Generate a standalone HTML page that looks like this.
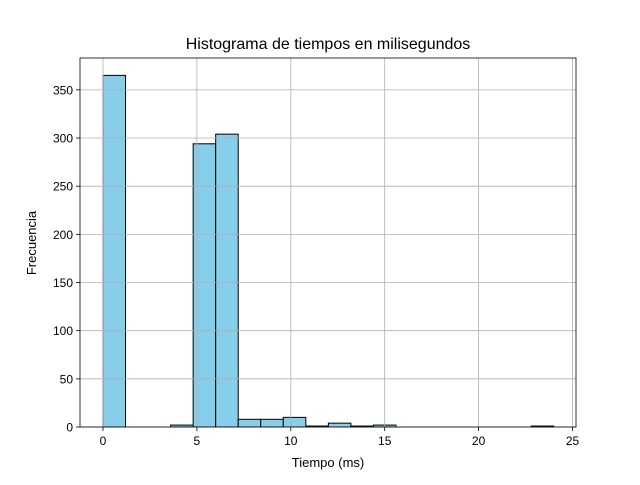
<!DOCTYPE html>
<html><head><meta charset="utf-8"><style>
body{margin:0;background:#fff;}
svg text{font-family:"Liberation Sans","DejaVu Sans",sans-serif;fill:#000;}
</style></head><body>
<svg id="chart" width="640" height="480">
<rect width="640" height="480" fill="#fff"/>
<g id="bars"></g><g id="grid"></g><g id="axes"></g>
<text x="328" y="49" font-size="16" text-anchor="middle">Histograma de tiempos en milisegundos</text>
<text x="328" y="467" font-size="13" text-anchor="middle">Tiempo (ms)</text>
<text x="36" y="243" font-size="13" text-anchor="middle" transform="rotate(-90 36 243)">Frecuencia</text>
</svg>
<script>
const binStart = 0;
const binWidth = 1.2;
const counts = [365,0,0,2,294,304,8,8,10,1,4,1,2,0,0,0,0,0,0,1];
const xTicks = [0,5,10,15,20,25];
const yTicks = [0,50,100,150,200,250,300,350];
const L=80,R=576,T=58,B=427;
const xs=v=>103+v*18.78;
const ys=v=>427-v*0.9633;
const NS='http://www.w3.org/2000/svg';
function mk(t,a,p){const e=document.createElementNS(NS,t);for(const k in a)e.setAttribute(k,a[k]);p.appendChild(e);return e;}
const grid=document.getElementById('grid'),bars=document.getElementById('bars'),axes=document.getElementById('axes');
xTicks.forEach(t=>{const x=xs(t);
 const g=mk('line',{x1:x,x2:x,y1:T,y2:B,stroke:'#b0b0b0','stroke-width':0.8},grid);
 
 
 mk('line',{x1:x,x2:x,y1:B,y2:B+4,stroke:'#000','stroke-width':0.8},axes);
 const tx=mk('text',{x:x,y:B+18,'font-size':12,'text-anchor':'middle'},axes);tx.textContent=t;
 
 
});
yTicks.forEach(t=>{const y=ys(t);
 const g=mk('line',{x1:L,x2:R,y1:y,y2:y,stroke:'#b0b0b0','stroke-width':0.8},grid);
 
 
 mk('line',{x1:L-4,x2:L,y1:y,y2:y,stroke:'#000','stroke-width':0.8},axes);
 const tx=mk('text',{x:L-7,y:y+4.5,'font-size':12,'text-anchor':'end'},axes);tx.textContent=t;
 
 
});
counts.forEach((c,i)=>{const x0=xs(binStart+i*binWidth),x1=xs(binStart+(i+1)*binWidth);
 const r=mk('rect',{x:x0,y:ys(c),width:x1-x0,height:B-ys(c),fill:'#87ceeb',stroke:'#000','stroke-width':1},bars);
 
 
});
const f=mk('rect',{x:L,y:T,width:R-L,height:B-T,fill:'none',stroke:'#000','stroke-width':0.8},axes);


</script>
</body></html>
